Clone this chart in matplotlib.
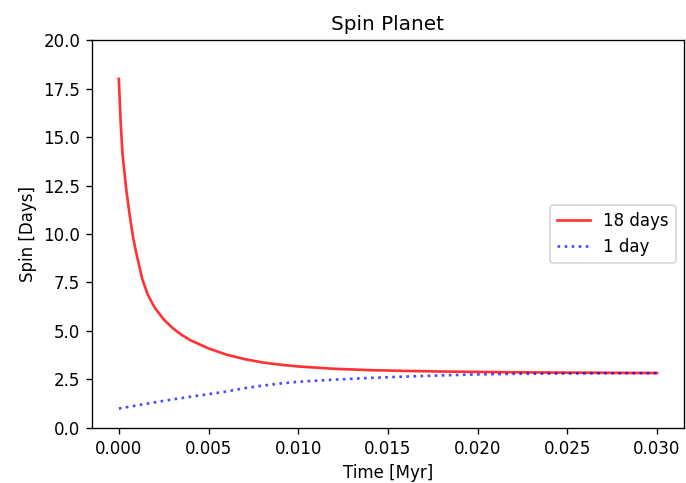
import matplotlib
matplotlib.use("Agg")
import matplotlib.pyplot as plt

# Data
red_t = [0.0, 0.0001, 0.0002, 0.0004, 0.0006, 0.0008, 0.001, 0.0013, 0.0016, 0.002,
         0.0025, 0.003, 0.0035, 0.004, 0.005, 0.006, 0.007, 0.008, 0.009, 0.010,
         0.012, 0.014, 0.016, 0.018, 0.020, 0.022, 0.025, 0.028, 0.030]
red_spin = [18.0, 15.8, 14.2, 12.4, 11.0, 9.8, 8.9, 7.7, 6.9, 6.2,
            5.6, 5.15, 4.8, 4.52, 4.1, 3.78, 3.55, 3.38, 3.26, 3.17,
            3.05, 2.98, 2.94, 2.91, 2.89, 2.87, 2.85, 2.84, 2.83]

blue_t = [0.0, 0.001, 0.002, 0.003, 0.004, 0.005, 0.006, 0.007, 0.008, 0.009, 0.010,
          0.012, 0.014, 0.016, 0.018, 0.020, 0.022, 0.025, 0.028, 0.030]
blue_spin = [1.0, 1.16, 1.32, 1.47, 1.61, 1.74, 1.88, 2.05, 2.18, 2.29, 2.38,
             2.49, 2.58, 2.65, 2.71, 2.76, 2.79, 2.81, 2.82, 2.83]

labels = ["18 days", "1 day"]
xticks = [0.000, 0.005, 0.010, 0.015, 0.020, 0.025, 0.030]
yticks = [0.0, 2.5, 5.0, 7.5, 10.0, 12.5, 15.0, 17.5, 20.0]

DPI = 120
fig = plt.figure(figsize=(686 / DPI, 483 / DPI), dpi=DPI)
ax = fig.add_axes([0.134, 0.114, 0.863, 0.803])

ax.plot(red_t, red_spin, color="red", alpha=0.8, lw=1.6, label=labels[0])
ax.plot(blue_t, blue_spin, color="blue", alpha=0.7, lw=1.6, linestyle=":", label=labels[1])

ax.set_ylim(0, 20)
ax.set_xticks(xticks)
ax.set_yticks(yticks)
ax.set_xticklabels([f"{v:.3f}" for v in xticks])
ax.set_yticklabels([f"{v:.1f}" for v in yticks])
ax.set_title("Spin Planet")
ax.set_xlabel("Time [Myr]")
ax.set_ylabel("Spin [Days]")
ax.legend(loc="center right")

fig.savefig("out.png", dpi=DPI)
